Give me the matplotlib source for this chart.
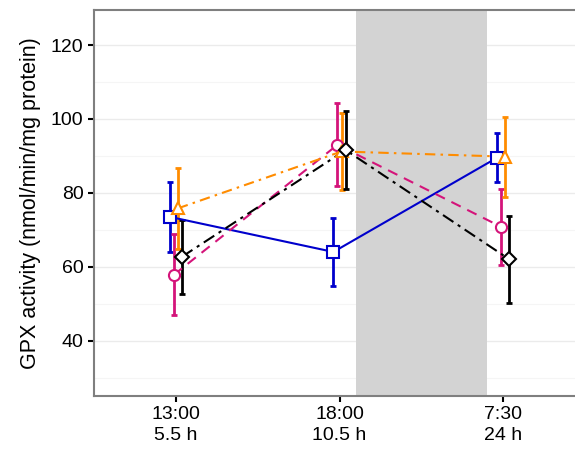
import numpy as np
import matplotlib
matplotlib.use("Agg")
import matplotlib.pyplot as plt
from matplotlib.ticker import MultipleLocator

plt.rcParams['font.family'] = ['Liberation Sans', 'DejaVu Sans']

# Time points on the x axis.
time_labels = ["13:00\n5.5 h", "18:00\n10.5 h", "7:30\n24 h"]
time_pos = np.array([1, 2, 3])

# GPX activity means and error half-widths per group.
blue_mean = [73.5, 64.0, 89.5]
blue_err = [9.5, 9.3, 6.7]
pink_mean = [57.8, 93.0, 70.8]
pink_err = [11.0, 11.2, 10.3]
orange_mean = [75.8, 91.2, 89.8]
orange_err = [11.0, 10.5, 10.8]
black_mean = [62.7, 91.6, 62.0]
black_err = [10.0, 10.5, 11.8]

# Shaded interval (night) in x units.
band = (2.1, 2.9)

series = [
    (blue_mean, blue_err, "#0000CC", "-", "s", -0.0375),
    (pink_mean, pink_err, "#D4147A", (0, (5, 3.5)), "o", -0.0125),
    (orange_mean, orange_err, "#FF8C00", (0, (5, 2.5, 1.2, 2.5)), "^", 0.0125),
    (black_mean, black_err, "black", (0, (6, 2.5, 1.5, 2.5)), "D", 0.0375),
]

fig = plt.figure(figsize=(5.75, 4.59), dpi=100)
ax = fig.add_axes([94 / 575, 1 - 396 / 459, 491 / 575, 386 / 459])

ax.axvspan(band[0], band[1], color="#D3D3D3", zorder=1, lw=0)

for mean, err, col, ls, mk, dx in series:
    x = time_pos + dx
    ax.errorbar(x, mean, yerr=err, fmt="none", ecolor=col, elinewidth=2.0,
                capsize=2, capthick=2.0, zorder=3)
    ax.plot(x, mean, color=col, linestyle=ls, linewidth=1.5, zorder=4)
    ms = 9 if mk == "^" else 8
    if mk == "D":
        ms = 7.5
    ax.plot(x, mean, linestyle="none", marker=mk, markersize=ms,
            markerfacecolor="white", markeredgecolor=col, markeredgewidth=1.5,
            zorder=5)

ax.set_xlim(0.5, 3.5)
ax.set_ylim(25, 129.5)
ax.set_xticks(time_pos)
ax.set_xticklabels(time_labels, fontsize=14, linespacing=1.3)
ax.yaxis.set_major_locator(MultipleLocator(20))
ax.yaxis.set_minor_locator(MultipleLocator(10))
ax.tick_params(axis="y", which="minor", length=0)
ax.tick_params(axis="both", which="major", length=4.5, width=1.5, color="black",
               labelsize=14, labelcolor="black", pad=3)
ax.set_ylabel("GPX activity (nmol/min/mg protein)", fontsize=15.5, labelpad=7)

ax.grid(axis="y", which="major", color="#EBEBEB", linewidth=1.0, zorder=0)
ax.grid(axis="y", which="minor", color="#F5F5F5", linewidth=0.8, zorder=0)
ax.set_axisbelow(True)
for s in ax.spines.values():
    s.set_color("#7F7F7F")
    s.set_linewidth(1.5)

fig.savefig("out.png", dpi=100)
